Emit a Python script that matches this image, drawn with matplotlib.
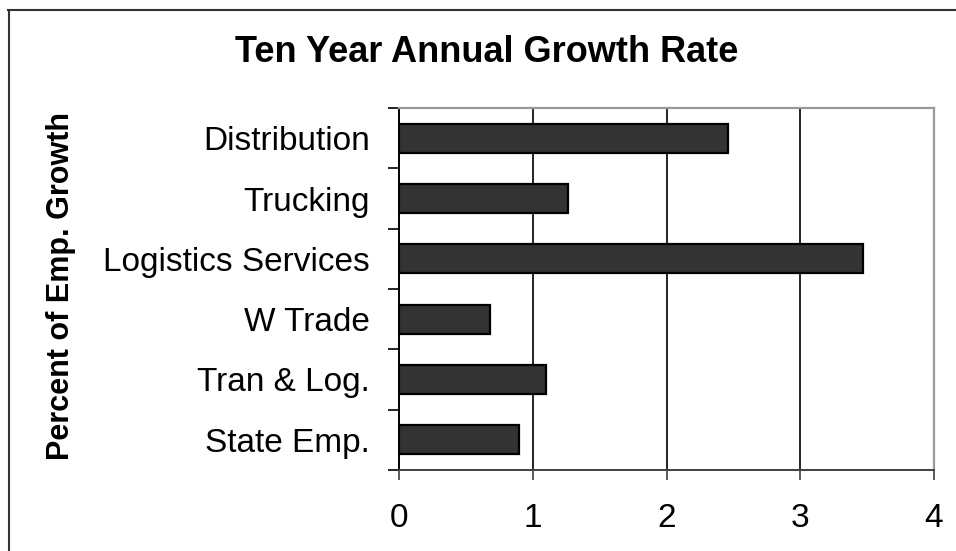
import matplotlib.pyplot as plt
import numpy as np
from matplotlib.lines import Line2D

plt.rcParams["font.family"] = ["Liberation Sans", "DejaVu Sans"]

CATEGORIES = ["Distribution", "Trucking", "Logistics Services", "W Trade", "Tran & Log.", "State Emp."]
GROWTH = [2.46, 1.26, 3.47, 0.68, 1.10, 0.90]
X_TICKS = [0, 1, 2, 3, 4]

TITLE = "Ten Year Annual Growth Rate"
Y_LABEL = "Percent of Emp. Growth"


def main() -> None:
    W, H = 956, 551
    fig = plt.figure(figsize=(W / 100, H / 100), dpi=100)
    ax = fig.add_axes([399 / W, 1 - 470 / H, (934 - 399) / W, (470 - 108) / H])

    y = np.arange(len(CATEGORIES))[::-1]
    ax.barh(y, GROWTH, height=0.48, color="#333333", edgecolor="black", linewidth=1.6, zorder=3)

    ax.set_xlim(0, 4)
    ax.set_ylim(-0.5, len(CATEGORIES) - 0.5)
    ax.set_xticks(X_TICKS)
    ax.set_xticklabels([str(t) for t in X_TICKS], fontsize=24)
    ax.set_yticks(y)
    ax.set_yticklabels(CATEGORIES, fontsize=24)
    ax.set_yticks(np.arange(-0.5, len(CATEGORIES), 1), minor=True)

    ax.tick_params(axis="y", which="major", length=0, pad=21)
    ax.tick_params(axis="y", which="minor", length=8, width=1.2, color="black", direction="out")
    ax.tick_params(axis="x", which="major", length=7, width=1.2, color="#404040", pad=17)

    for xv in X_TICKS[1:-1]:
        ax.axvline(xv, color="black", linewidth=1.2, zorder=1)

    ax.spines["left"].set_color("black")
    ax.spines["left"].set_linewidth(1.4)
    ax.spines["bottom"].set_color("#404040")
    ax.spines["bottom"].set_linewidth(1.4)
    for side in ("top", "right"):
        ax.spines[side].set_color("#999999")
        ax.spines[side].set_linewidth(1.6)

    fig.text(487 / W, 1 - 53 / H, TITLE, ha="center", va="center", fontsize=26, fontweight="bold")
    fig.text(61 / W, 1 - 286 / H, Y_LABEL, ha="center", va="center", rotation=90,
             fontsize=22, fontweight="bold")

    # outer chart border
    fig.add_artist(Line2D([8.5 / W, 8.5 / W], [0, 1 - 10 / H], color="#333333", linewidth=1.5,
                          transform=fig.transFigure))
    fig.add_artist(Line2D([8 / W, 1], [1 - 10 / H, 1 - 10 / H], color="#333333", linewidth=1.5,
                          transform=fig.transFigure))

    fig.savefig("out.png", dpi=100)
    plt.close(fig)


if __name__ == "__main__":
    main()
